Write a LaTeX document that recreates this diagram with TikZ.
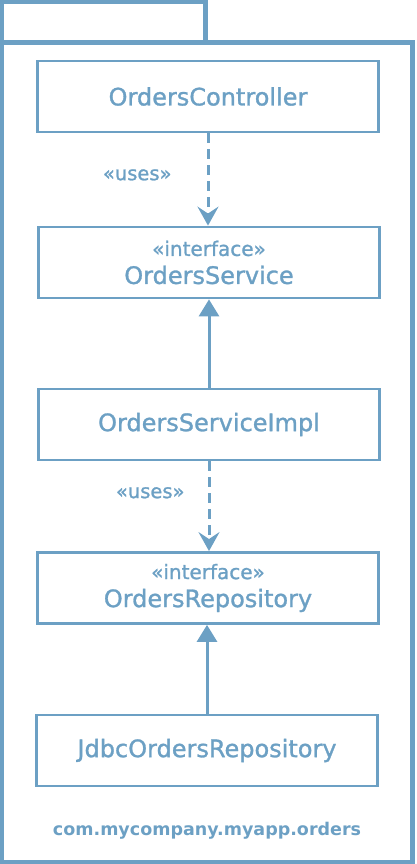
\documentclass[tikz,border=0pt]{standalone}
\usepackage{fontspec}
\setmainfont{DejaVu Sans}
\newfontfamily\umlfont{DejaVu Sans}[FakeBold=1.2]
\usetikzlibrary{arrows.meta,positioning}
\definecolor{umlblue}{RGB}{108,160,196}

\begin{document}
\begin{tikzpicture}[x=1pt,y=1pt,
    node font=\umlfont\fontsize{24}{28}\selectfont,
    every node/.style={text=umlblue},
    classbox/.style={draw=umlblue,line width=2.8pt,minimum width=341pt,minimum height=71pt,align=center},
    stereo/.style={font=\fontsize{19.5}{22}\selectfont},
    uses/.style={color=umlblue,line width=3pt,dash pattern=on 10pt off 6pt,
      arrows={-Stealth[length=19pt,width=21pt,inset=7pt]}},
    realizes/.style={color=umlblue,line width=3pt,arrows={-Triangle[length=17pt,width=20pt]}}]
        \useasboundingbox (0,0) rectangle (416,864);
        % package frame with tab
        \draw[umlblue,line width=4.5pt] (2,821.5) -- (2,862) -- (205.5,862) -- (205.5,821.5);
        \draw[umlblue,line width=4.5pt] (2,2) rectangle (412.5,821.5);
        \node (pkgname) at (207,33) {\normalfont\fontsize{17.5}{20}\selectfont\bfseries com.mycompany.myapp.orders};
        % classes
        \node[classbox] (ctrl) at (208,767.5) {OrdersController};
        \node[classbox] (svc) at (209,601.5) {{\fontsize{20}{20}\selectfont «interface»}\\OrdersService};
        \node[classbox] (impl) at (209,439.5) {OrdersServiceImpl};
        \node[classbox] (repo) at (208,276) {{\fontsize{20}{20}\selectfont «interface»}\\OrdersRepository};
        \node[classbox] (jdbc) at (207,113.5) {JdbcOrdersRepository};
        % dependencies
        \draw[uses] (ctrl.south) -- (ctrl.south |- svc.north)
          node[pos=0.45,left=27pt,stereo] {«uses»};
        \draw[uses] (impl.south) -- (impl.south |- repo.north)
          node[pos=0.35,left=15pt,stereo] {«uses»};
        \draw[realizes] (impl.north) -- (svc.south);
        \draw[realizes] (jdbc.north) -- (jdbc.north |- repo.south);
      \end{tikzpicture}
\end{document}
